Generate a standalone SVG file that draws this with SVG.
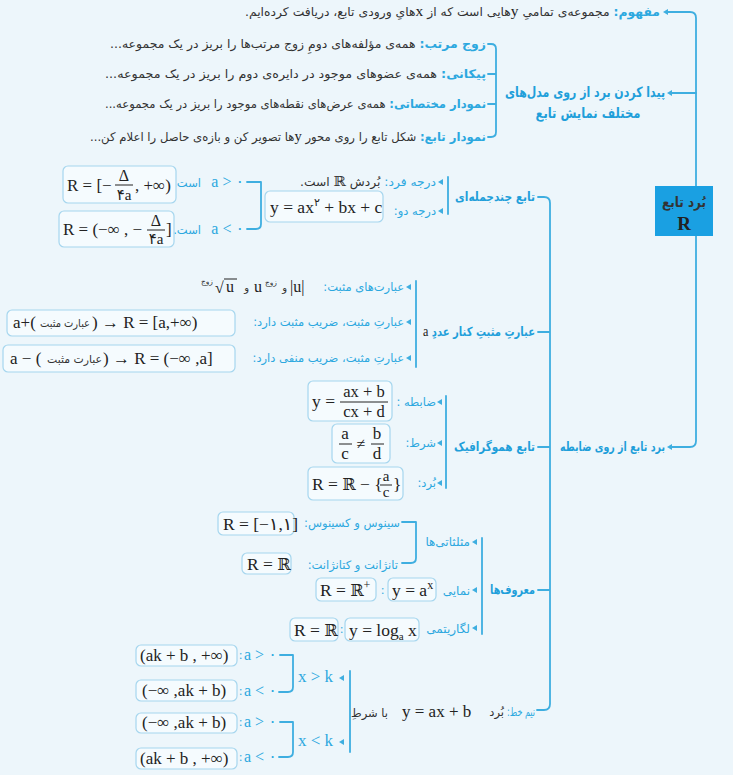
<svg xmlns="http://www.w3.org/2000/svg" width="733" height="775" viewBox="0 0 733 775">
<defs>
<style>
.fa{font-family:"DejaVu Sans","Noto Sans",sans-serif;fill:#333}
.b{fill:#2ca8df}
.h{font-weight:bold;fill:#1f9fda}
.m{font-family:"Liberation Serif","DejaVu Serif","DejaVu Sans",serif;fill:#222}
.mb{fill:#2ca8df}
.r{font-family:"DejaVu Serif",serif}
.bx{fill:#f5fbfe;stroke:#a6d6ee;stroke-width:1.2}
.ln{fill:none;stroke:#3eaee0;stroke-width:1.8;stroke-linecap:round;stroke-linejoin:round}
.fl{stroke:#222;stroke-width:1}
.ar{fill:#3eaee0}
</style>
<path id="t" d="M0,0 l5,-3 v6 z"/>
</defs>
<rect width="733" height="775" fill="#edf6fb"/>

<g id="connectors">
<path class="ln" d="M666,12 H690 Q696,12 696,18 V441 Q696,447 690,447 H670"/>
<path class="ln" d="M670,93 H696"/>
<path class="ln" d="M488,44 H491 Q496,44 496,49 V132 Q496,137 491,137 H488 M488,74 H496 M488,104 H496"/>
<path class="ln" d="M538,197 H544 Q550,197 550,203 V704 Q550,710 544,710 H537 M538,332 H550 M538,447 H550 M538,590 H550"/>
<path class="ln" d="M448,177 V214"/>
<path class="ln" d="M247,182 H261 V224 Q261,229 256,229 H247"/>
<path class="ln" d="M416,281 V367"/>
<path class="ln" d="M446,396 V488"/>
<path class="ln" d="M482,538 V634"/>
<path class="ln" d="M402,522 H416 V558 Q416,563 411,563 H402"/>
<path class="ln" d="M350,671 V752"/>
<path class="ln" d="M280,655 H293 V687 Q293,692 288,692 H279"/>
<path class="ln" d="M280,722 H293 V752 Q293,757 288,757 H279"/>
<g class="ar">
<use href="#t" x="663" y="12"/><use href="#t" x="667" y="93"/><use href="#t" x="667" y="447"/>
<use href="#t" x="438" y="182"/><use href="#t" x="438" y="211"/>
<use href="#t" x="406" y="287"/><use href="#t" x="406" y="322"/><use href="#t" x="406" y="358"/>
<use href="#t" x="437" y="402"/><use href="#t" x="437" y="443"/><use href="#t" x="437" y="483"/>
<use href="#t" x="472" y="542"/><use href="#t" x="472" y="590"/><use href="#t" x="472" y="628"/>
<use href="#t" x="339" y="678"/><use href="#t" x="339" y="742"/>
</g>
</g>

<g id="n-root">
<rect x="655" y="186" width="58" height="50" fill="#1aa0e2"/>
<text class="fa" x="684" y="207" text-anchor="middle" direction="rtl" font-size="14" font-weight="bold" fill="#fff" textLength="44" lengthAdjust="spacingAndGlyphs">بُرد تابع</text>
<text class="m" x="684" y="230" text-anchor="middle" font-size="19" font-weight="bold" fill="#fff">R</text>
</g>

<g id="n-concept">
<text class="fa" x="660" y="16" direction="rtl" font-size="12" textLength="415" lengthAdjust="spacingAndGlyphs"><tspan class="b" font-weight="bold">مفهوم:</tspan> مجموعه‌ی تمامیِ <tspan class="m" font-size="15">y</tspan>هایی است که از <tspan class="m" font-size="15">x</tspan>هایِ ورودی تابع، دریافت کرده‌ایم.</text>
</g>

<g id="n-models">
<text class="fa h" x="585" y="97" text-anchor="middle" direction="rtl" font-size="14" textLength="160" lengthAdjust="spacingAndGlyphs">پیدا کردن برد از روی مدل‌های</text>
<text class="fa h" x="588" y="118" text-anchor="middle" direction="rtl" font-size="14" textLength="105" lengthAdjust="spacingAndGlyphs">مختلف نمایش تابع</text>
</g>
<g id="n-pairs">
<text class="fa" x="486" y="48" direction="rtl" font-size="12" textLength="376" lengthAdjust="spacingAndGlyphs"><tspan class="b" font-weight="bold">زوج مرتب:</tspan> همه‌ی مؤلفه‌های دومِ زوج مرتب‌ها را بریز در یک مجموعه...</text>
</g>
<g id="n-arrow">
<text class="fa" x="486" y="78" direction="rtl" font-size="12" textLength="381" lengthAdjust="spacingAndGlyphs"><tspan class="b" font-weight="bold">پیکانی:</tspan> همه‌ی عضوهای موجود در دایره‌ی دوم را بریز در یک مجموعه...</text>
</g>
<g id="n-coord">
<text class="fa" x="486" y="108" direction="rtl" font-size="12" textLength="381" lengthAdjust="spacingAndGlyphs"><tspan class="b" font-weight="bold">نمودار مختصاتی:</tspan> همه‌ی عرض‌های نقطه‌های موجود را بریز در یک مجموعه...</text>
</g>
<g id="n-graph">
<text class="fa" x="486" y="141" direction="rtl" font-size="12" textLength="396" lengthAdjust="spacingAndGlyphs"><tspan class="b" font-weight="bold">نمودار تابع:</tspan> شکل تابع را روی محور <tspan class="m" font-size="15">y</tspan>ها تصویر کن و بازه‌ی حاصل را اعلام کن...</text>
</g>

<g id="n-formula">
<text class="fa h" x="665" y="451" direction="rtl" font-size="12.5" textLength="105" lengthAdjust="spacingAndGlyphs">برد تابع از روی ضابطه</text>
</g>

<g id="n-poly">
<text class="fa h" x="535" y="201" direction="rtl" font-size="12.5" textLength="80" lengthAdjust="spacingAndGlyphs">تابع چندجمله‌ای</text>
<text class="fa" x="436" y="186" direction="rtl" font-size="11.5" textLength="136" lengthAdjust="spacingAndGlyphs"><tspan class="b">درجه فرد:</tspan> بُردش <tspan class="r" font-size="14">ℝ</tspan> است.</text>
<text class="fa b" x="436" y="215" direction="rtl" font-size="11.5">درجه دو:</text>
<rect class="bx" x="265" y="191" width="118" height="31" rx="5"/>
<text class="m" x="270" y="213" font-size="17.5">y = ax<tspan font-size="11" dy="-7">۲</tspan><tspan dy="7"> + bx + c</tspan></text>
<text class="m mb" x="244" y="187" text-anchor="end" font-size="16">a &gt; ۰</text>
<text class="fa b" x="201" y="187" direction="rtl" font-size="11.5">است.</text>
<text class="m mb" x="244" y="234" text-anchor="end" font-size="16">a &lt; ۰</text>
<text class="fa b" x="201" y="234" direction="rtl" font-size="11.5">است.</text>
<rect class="bx" x="63" y="166" width="113" height="37" rx="5"/>
<text class="m" x="67" y="191" font-size="17">R = [−</text>
<text class="m" x="124" y="181" text-anchor="middle" font-size="16">Δ</text>
<line class="fl" x1="115" y1="185" x2="133" y2="185"/>
<text class="m" x="124" y="200" text-anchor="middle" font-size="15">۴a</text>
<text class="m" x="135" y="191" font-size="17">, +∞)</text>
<rect class="bx" x="59" y="211" width="115" height="36" rx="5"/>
<text class="m" x="63" y="235" font-size="17">R = (−∞ , −</text>
<text class="m" x="156" y="226" text-anchor="middle" font-size="16">Δ</text>
<line class="fl" x1="147" y1="230" x2="165" y2="230"/>
<text class="m" x="156" y="244" text-anchor="middle" font-size="15">۴a</text>
<text class="m" x="166" y="235" font-size="17">]</text>
</g>

<g id="n-positive">
<text class="fa h" x="535" y="336" direction="rtl" font-size="12.5" textLength="112" lengthAdjust="spacingAndGlyphs">عبارتِ مثبتِ کنار عددِ <tspan class="m" font-size="15" font-weight="normal">a</tspan></text>
<text class="fa b" x="404" y="291" direction="rtl" font-size="11.5">عبارت‌های مثبت:</text>
<text class="m" x="290" y="292" font-size="16">|u|</text>
<text class="fa" x="287" y="291" direction="rtl" font-size="10">و</text>
<text class="m" x="254" y="292" font-size="16">u</text>
<text class="fa" x="277" y="285" direction="rtl" font-size="7.5">زوج</text>
<text class="fa" x="249" y="291" direction="rtl" font-size="10">و</text>
<text class="fa" x="213" y="284" direction="rtl" font-size="7.5">زوج</text>
<text class="m" x="215" y="293" font-size="16">√</text>
<line class="fl" x1="224" y1="279" x2="237" y2="279"/>
<text class="m" x="226" y="292" font-size="16">u</text>
<text class="fa b" x="404" y="326" direction="rtl" font-size="11.5">عبارتِ مثبت، ضریب مثبت دارد:</text>
<rect class="bx" x="7" y="310" width="228" height="26" rx="5"/>
<text class="m" x="13" y="328" font-size="17">a+(</text>
<text class="fa" x="90" y="327" direction="rtl" font-size="11" textLength="50" lengthAdjust="spacingAndGlyphs">عبارت مثبت</text>
<text class="m" x="92" y="328" font-size="17">) → R = [a,+∞)</text>
<text class="fa b" x="404" y="362" direction="rtl" font-size="11.5">عبارتِ مثبت، ضریب منفی دارد:</text>
<rect class="bx" x="3" y="345" width="232" height="27" rx="5"/>
<text class="m" x="10" y="364" font-size="17">a − (</text>
<text class="fa" x="102" y="363" direction="rtl" font-size="11" textLength="55" lengthAdjust="spacingAndGlyphs">عبارت مثبت</text>
<text class="m" x="103" y="364" font-size="17">) → R = (−∞ ,a]</text>
</g>

<g id="n-homographic">
<text class="fa h" x="535" y="451" direction="rtl" font-size="12.5" textLength="81" lengthAdjust="spacingAndGlyphs">تابع هموگرافیک</text>
<text class="fa b" x="436" y="406" direction="rtl" font-size="11.5">ضابطه :</text>
<rect class="bx" x="308" y="381" width="84" height="40" rx="5"/>
<text class="m" x="312" y="407" font-size="17.5">y =</text>
<text class="m" x="364" y="397" text-anchor="middle" font-size="16.5">ax + b</text>
<line class="fl" x1="340" y1="402" x2="388" y2="402"/>
<text class="m" x="364" y="417" text-anchor="middle" font-size="16.5">cx + d</text>
<text class="fa b" x="436" y="447" direction="rtl" font-size="11.5">شرط:</text>
<rect class="bx" x="332" y="424" width="58" height="39" rx="5"/>
<text class="m" x="345" y="439" text-anchor="middle" font-size="17">a</text>
<line class="fl" x1="339" y1="444" x2="352" y2="444"/>
<text class="m" x="345" y="459" text-anchor="middle" font-size="17">c</text>
<text class="m" x="361" y="449" text-anchor="middle" font-size="16">≠</text>
<text class="m" x="377" y="439" text-anchor="middle" font-size="17">b</text>
<line class="fl" x1="371" y1="444" x2="384" y2="444"/>
<text class="m" x="377" y="459" text-anchor="middle" font-size="17">d</text>
<text class="fa b" x="436" y="487" direction="rtl" font-size="11.5">بُرد:</text>
<rect class="bx" x="308" y="467" width="95" height="33" rx="5"/>
<text class="m" x="312" y="490" font-size="17.5">R = <tspan class="r" font-size="16">ℝ</tspan> − {</text>
<text class="m" x="386" y="481" text-anchor="middle" font-size="15">a</text>
<line class="fl" x1="380" y1="485" x2="392" y2="485"/>
<text class="m" x="386" y="497" text-anchor="middle" font-size="15">c</text>
<text class="m" x="393" y="490" font-size="17.5">}</text>
</g>

<g id="n-famous">
<text class="fa h" x="535" y="594" direction="rtl" font-size="12.5" textLength="45" lengthAdjust="spacingAndGlyphs">معروف‌ها</text>
<text class="fa b" x="470" y="546" direction="rtl" font-size="12">مثلثاتی‌ها</text>
<text class="fa b" x="400" y="527" direction="rtl" font-size="11.5">سینوس و کسینوس:</text>
<rect class="bx" x="218" y="512" width="76" height="23" rx="5"/>
<text class="m" x="223" y="530" font-size="17.5">R = [−۱,۱]</text>
<text class="fa b" x="398" y="569" direction="rtl" font-size="11.5">تانژانت و کتانژانت:</text>
<rect class="bx" x="242" y="553" width="49" height="21" rx="5"/>
<text class="m" x="247" y="570" font-size="17.5">R = <tspan class="r" font-size="16">ℝ</tspan></text>
<text class="fa b" x="470" y="595" direction="rtl" font-size="12">نمایی</text>
<rect class="bx" x="388" y="578" width="48" height="23" rx="5"/>
<text class="m" x="392" y="596" font-size="17.5">y = a<tspan font-size="12" dy="-7">x</tspan></text>
<text class="m mb" x="381" y="594" font-size="12">:</text>
<rect class="bx" x="316" y="578" width="60" height="23" rx="5"/>
<text class="m" x="320" y="596" font-size="17.5">R = <tspan class="r" font-size="16">ℝ</tspan><tspan font-size="12" dy="-7">+</tspan></text>
<text class="fa b" x="470" y="633" direction="rtl" font-size="12">لگاریتمی</text>
<rect class="bx" x="345" y="618" width="74" height="23" rx="5"/>
<text class="m" x="349" y="636" font-size="17.5">y = log<tspan font-size="11" dy="4">a</tspan><tspan dy="-4"> x</tspan></text>
<text class="m mb" x="340" y="633" font-size="12">:</text>
<rect class="bx" x="290" y="618" width="48" height="23" rx="5"/>
<text class="m" x="294" y="636" font-size="17.5">R = <tspan class="r" font-size="16">ℝ</tspan></text>
</g>

<g id="n-halfline">
<text class="fa b" x="535" y="716" direction="rtl" font-size="11.5" textLength="28" lengthAdjust="spacingAndGlyphs">نیم خط:</text>
<text class="fa" x="504" y="716" direction="rtl" font-size="11.5">بُرد</text>
<text class="m" x="402" y="717" font-size="17">y = ax + b</text>
<text class="fa" x="388" y="717" direction="rtl" font-size="11.5">با شرطِ</text>
<text class="m mb" x="298" y="682" font-size="17">x &gt; k</text>
<text class="m mb" x="298" y="746" font-size="17">x &lt; k</text>
<text class="m mb" x="244" y="660" font-size="16">a &gt; ۰</text>
<text class="m mb" x="244" y="696" font-size="16">a &lt; ۰</text>
<text class="m mb" x="244" y="727" font-size="16">a &gt; ۰</text>
<text class="m mb" x="244" y="762" font-size="16">a &lt; ۰</text>
<text class="m mb" x="239" y="659" font-size="12">:</text>
<text class="m mb" x="239" y="695" font-size="12">:</text>
<text class="m mb" x="239" y="726" font-size="12">:</text>
<text class="m mb" x="239" y="761" font-size="12">:</text>
<rect class="bx" x="136" y="645" width="101" height="21" rx="5"/>
<text class="m" x="140" y="661" font-size="17">(ak + b , +∞)</text>
<rect class="bx" x="136" y="680" width="101" height="21" rx="5"/>
<text class="m" x="142" y="696" font-size="17">(−∞ ,ak + b)</text>
<rect class="bx" x="136" y="713" width="101" height="20" rx="5"/>
<text class="m" x="142" y="728" font-size="17">(−∞ ,ak + b)</text>
<rect class="bx" x="136" y="748" width="101" height="21" rx="5"/>
<text class="m" x="140" y="764" font-size="17">(ak + b , +∞)</text>
</g>
</svg>
